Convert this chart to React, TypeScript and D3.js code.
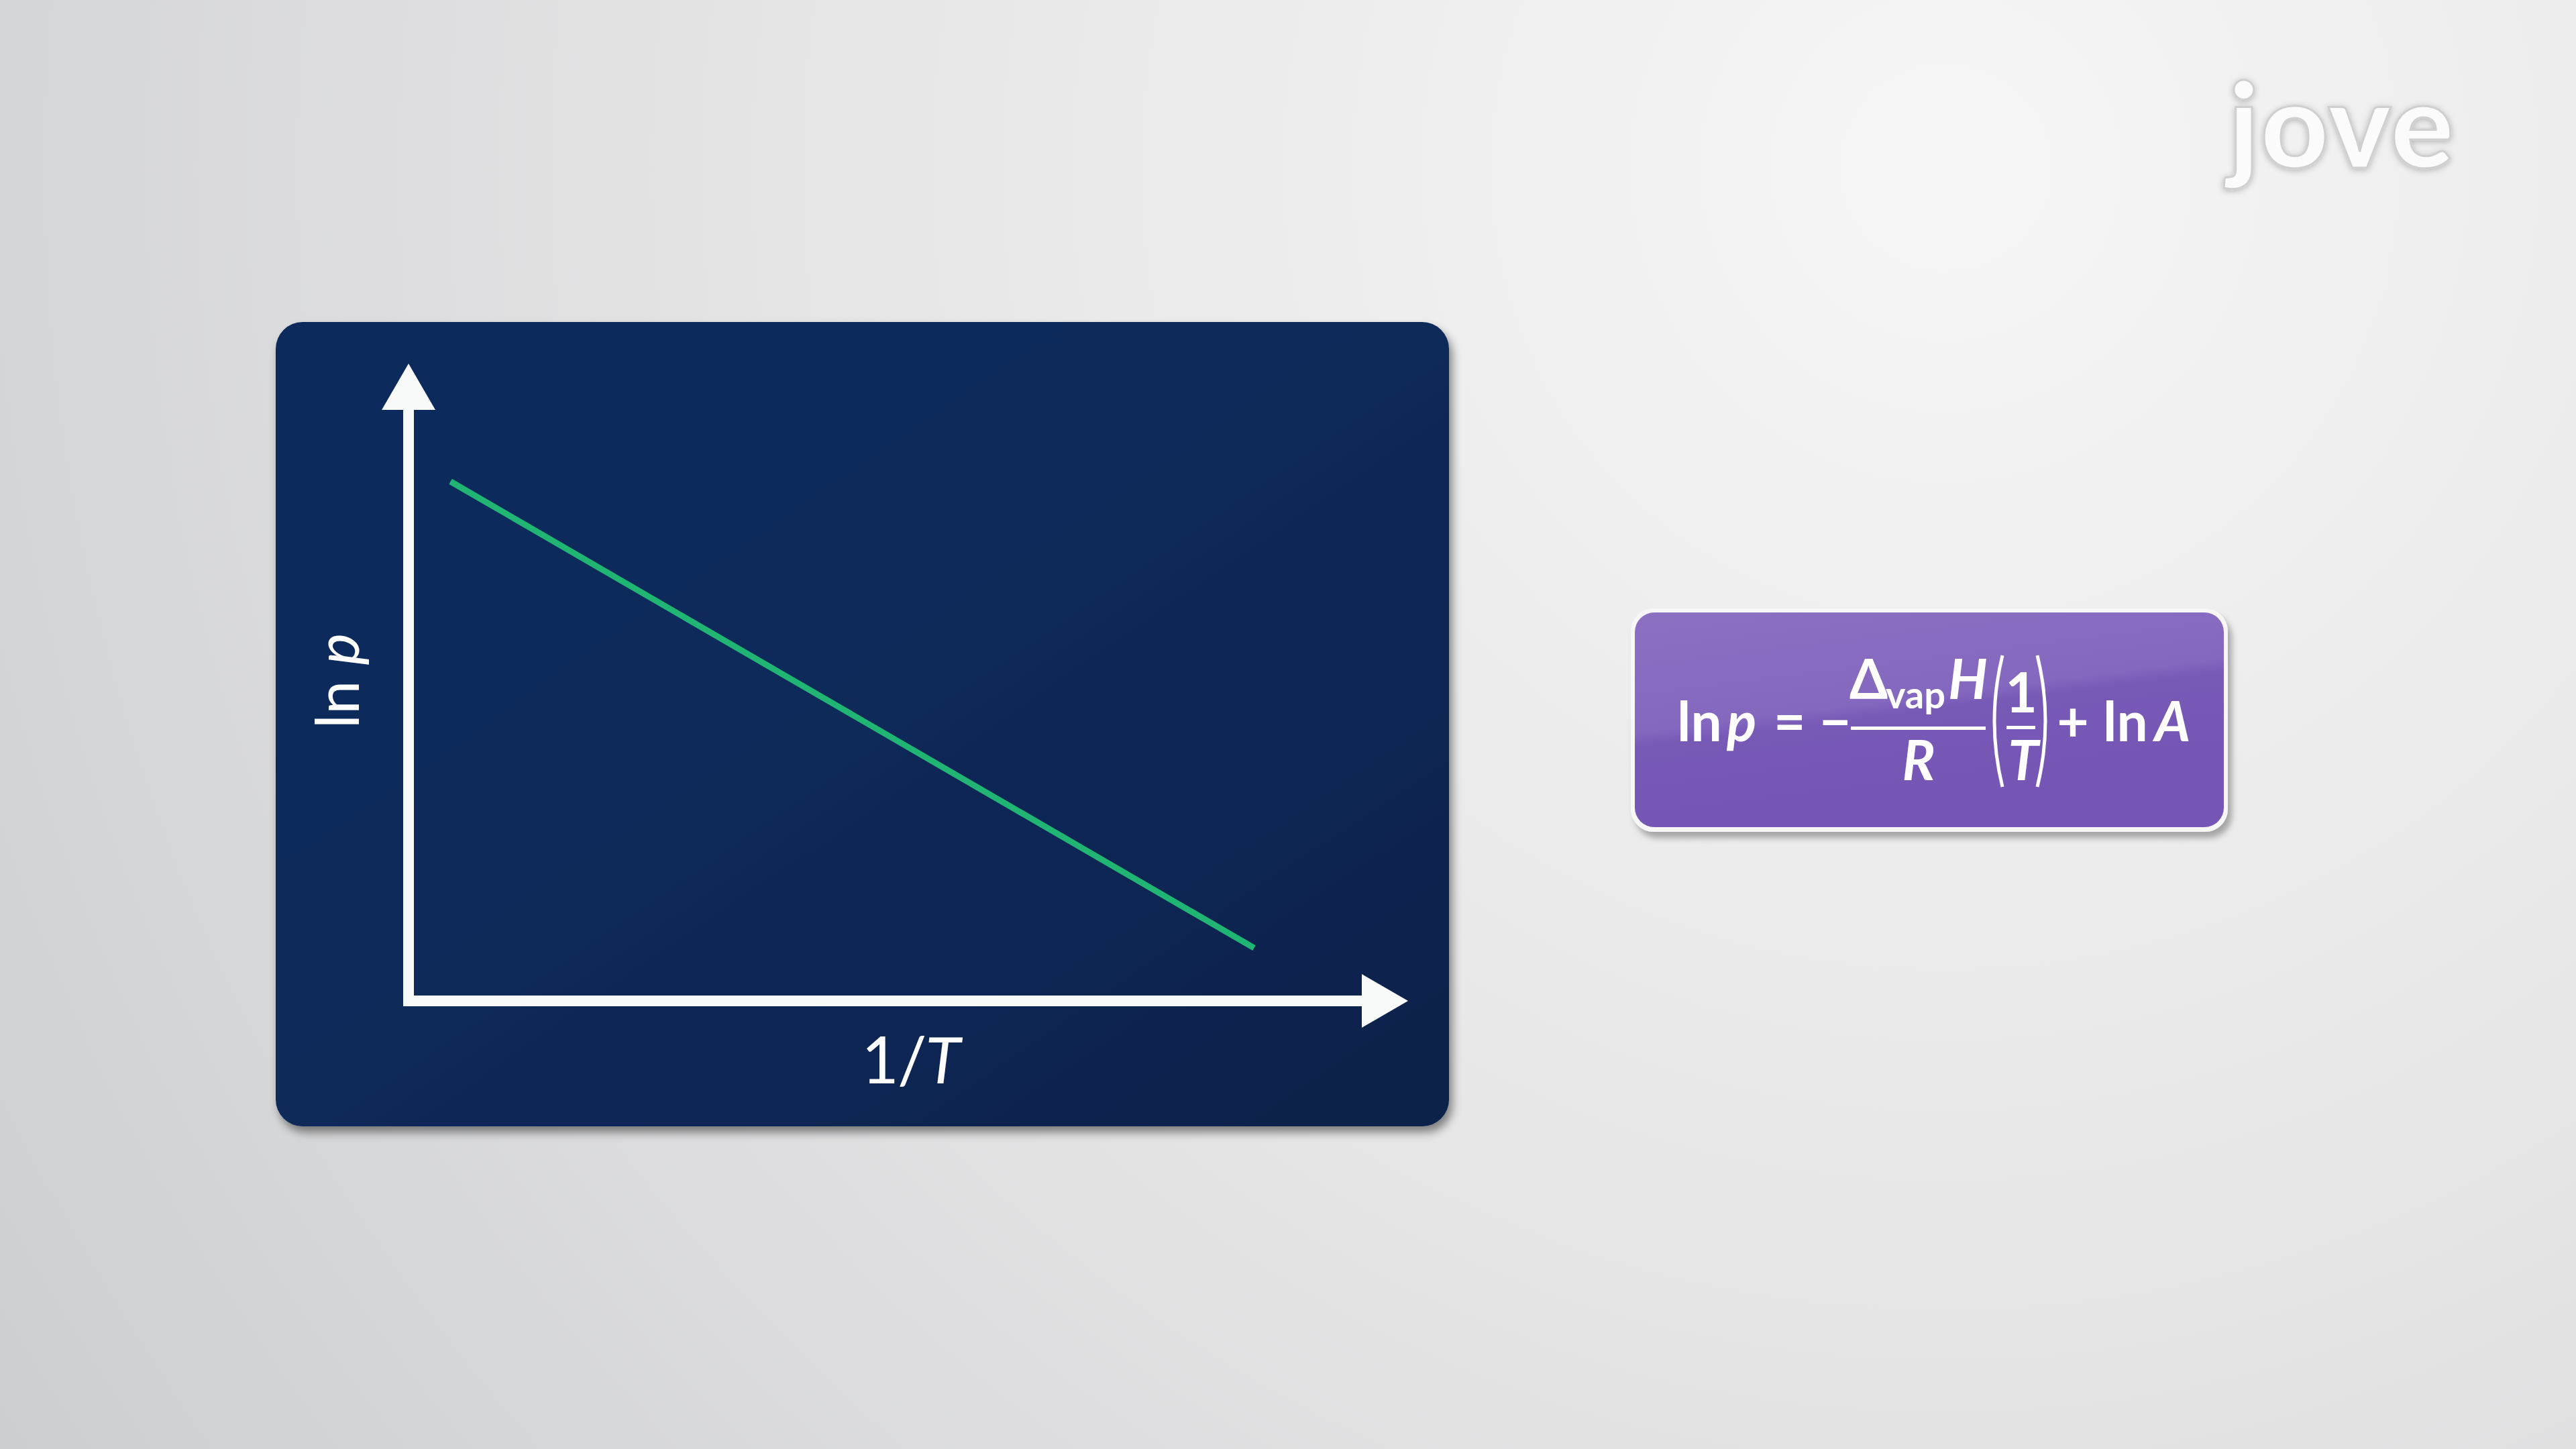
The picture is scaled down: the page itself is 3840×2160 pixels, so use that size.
import * as d3 from 'd3';

// Line data (normalised units on the 1/T and ln p axes)
const invT = [0.042, 0.846];
const lnP = [0.815, 0.083];

// Axis labels
const xLabel = ['1/', 'T'];
const yLabel = ['ln ', 'p'];

const W = 3840;
const H = 2160;

// Plot frame inside the dark panel
const originX = 609;
const originY = 1492;
const xEnd = 2099;
const yEnd = 542;

const x = d3.scaleLinear().domain([0, 1]).range([originX, xEnd]);
const y = d3.scaleLinear().domain([0, 1]).range([originY, yEnd]);

const line = d3.line<number>()
  .x((_, i) => x(invT[i]))
  .y(d => y(d));

const App = () => {
  const font = 'Lato, "Open Sans", sans-serif';
  const headLen = 69;
  const headHalf = 40;
  const axisW = 16;

  return (
    <div style={{ position: 'fixed', left: 0, top: 0, width: W, height: H }}>
      <svg width={W} height={H} viewBox={`0 0 ${W} ${H}`} style={{ display: 'block' }}>
        <defs>
          <radialGradient id="bg" cx="2900" cy="250" r="3700" gradientUnits="userSpaceOnUse">
            <stop offset="0" stopColor="#f6f6f6" />
            <stop offset="0.45" stopColor="#e6e6e7" />
            <stop offset="1" stopColor="#cacbcd" />
          </radialGradient>
          <linearGradient id="panel" x1="0" y1="0" x2="1" y2="1">
            <stop offset="0" stopColor="#0f2c5c" />
            <stop offset="0.45" stopColor="#0d2a5a" />
            <stop offset="1" stopColor="#07214a" />
          </linearGradient>
          <linearGradient id="purple" x1="0" y1="0" x2="0.35" y2="1">
            <stop offset="0" stopColor="#8c70c2" />
            <stop offset="0.5" stopColor="#8468bf" />
            <stop offset="0.56" stopColor="#7759b6" />
            <stop offset="1" stopColor="#7555b5" />
          </linearGradient>
          <filter id="shadow" x="-10%" y="-10%" width="120%" height="125%">
            <feDropShadow dx="5" dy="9" stdDeviation="7" floodColor="#000" floodOpacity="0.45" />
          </filter>
          <filter id="shadowSoft" x="-10%" y="-10%" width="120%" height="130%">
            <feDropShadow dx="6" dy="9" stdDeviation="5" floodColor="#000" floodOpacity="0.3" />
          </filter>
          <filter id="logoShadow" x="-20%" y="-20%" width="140%" height="140%">
            <feDropShadow dx="0" dy="2" stdDeviation="5" floodColor="#000" floodOpacity="0.25" />
          </filter>
        </defs>

        <rect x={0} y={0} width={W} height={H} fill="url(#bg)" />

        {/* logo */}
        <text x={3322} y={250} fontFamily={font} fontWeight={900} fontSize={176}
          fill="#fbfbfb" stroke="#cfcfcf" strokeWidth={3} filter="url(#logoShadow)"
          letterSpacing={2}>jove</text>

        {/* chart panel */}
        <rect x={411} y={480} width={1749} height={1199} rx={40} ry={40}
          fill="url(#panel)" filter="url(#shadow)" />

        {/* y axis */}
        <rect x={originX - axisW / 2} y={yEnd + headLen} width={axisW}
          height={originY + axisW / 2 - (yEnd + headLen)} fill="#f8fafa" />
        <path d={`M${originX},${yEnd} L${originX + headHalf},${yEnd + headLen} L${originX - headHalf},${yEnd + headLen} Z`}
          fill="#f8fafa" />

        {/* x axis */}
        <rect x={originX - axisW / 2} y={originY - axisW / 2}
          width={xEnd - headLen - (originX - axisW / 2)} height={axisW} fill="#f8fafa" />
        <path d={`M${xEnd},${originY} L${xEnd - headLen},${originY - headHalf} L${xEnd - headLen},${originY + headHalf} Z`}
          fill="#f8fafa" />

        {/* data line */}
        <path d={line(lnP) || ''} fill="none" stroke="#21b574" strokeWidth={9} />

        {/* axis labels */}
        <text x={1357} y={1615} textAnchor="middle" fontFamily={font} fontSize={96} fill="#ffffff"
          letterSpacing={-2}>
          {xLabel[0]}<tspan fontStyle="italic">{xLabel[1]}</tspan>
        </text>
        <text transform="translate(535,1015) rotate(-90)" textAnchor="middle"
          fontFamily={font} fontSize={90} fill="#ffffff">
          {yLabel[0]}<tspan fontStyle="italic">{yLabel[1]}</tspan>
        </text>

        {/* equation box */}
        <g filter="url(#shadowSoft)">
          <rect x={2431} y={907} width={890} height={333} rx={34} ry={34} fill="#f7f7f7" />
        </g>
        <rect x={2437} y={913} width={878} height={320} rx={29} ry={29} fill="url(#purple)" />

        <g fontFamily={font} fill="#ffffff" fontSize={82} fontWeight={700}>
          <text x={2500} y={1105}>ln</text>
          <text x={2574} y={1105} fontStyle="italic">p</text>
          <text x={2644} y={1105}>=</text>
          <text x={2712} y={1105}>−</text>
          <rect x={2759} y={1083} width={201} height={5} />
          <text x={2757} y={1042}>Δ</text>
          <text x={2811} y={1056} fontSize={56}>vap</text>
          <text x={2904} y={1042} fontStyle="italic">H</text>
          <text x={2860} y={1163} textAnchor="middle" fontStyle="italic">R</text>
          <path d="M2985,977 Q2961,1075 2985,1173" fill="none" stroke="#ffffff" strokeWidth={5} />
          <path d="M3037,977 Q3061,1075 3037,1173" fill="none" stroke="#ffffff" strokeWidth={5} />
          <text x={3013} y={1062} textAnchor="middle">1</text>
          <rect x={2991} y={1082} width={43} height={5} />
          <text x={3016} y={1163} textAnchor="middle" fontStyle="italic">T</text>
          <text x={3090} y={1105} textAnchor="middle">+</text>
          <text x={3135} y={1105}>ln</text>
          <text x={3212} y={1105} fontStyle="italic">A</text>
        </g>
      </svg>
    </div>
  );
};

export default App;
